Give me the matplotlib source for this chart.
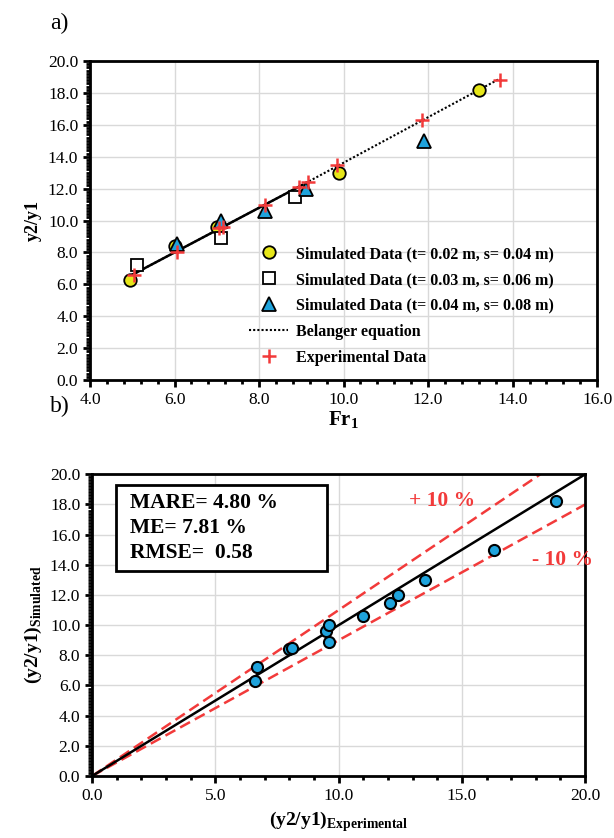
import matplotlib
matplotlib.use("Agg")
import matplotlib.pyplot as plt
from matplotlib.patches import Rectangle
from matplotlib.ticker import MultipleLocator, FormatStrFormatter

plt.rcParams["font.family"] = "Liberation Serif"
plt.rcParams["mathtext.fontset"] = "custom"
plt.rcParams["mathtext.rm"] = "Liberation Serif"
plt.rcParams["mathtext.bf"] = "Liberation Serif:bold"

# ── Panel a: y2/y1 against Fr1 ─────────────────────────────────────────────
fr_t02 = [4.95, 6.0, 7.0, 9.9, 13.2]
y_t02 = [6.3, 8.4, 9.6, 13.0, 18.2]

fr_t03 = [5.1, 7.1, 8.85]
y_t03 = [7.2, 8.9, 11.5]

fr_t04 = [6.05, 7.1, 8.15, 9.1, 11.9]
y_t04 = [8.5, 10.0, 10.6, 12.0, 15.0]

fr_exp = [5.05, 6.05, 7.05, 7.15, 8.15, 8.95, 9.15, 9.85, 11.85, 13.7]
y_exp = [6.6, 8.0, 9.5, 9.6, 11.0, 12.1, 12.4, 13.5, 16.3, 18.8]

fr_belanger = [5.0, 9.0, 13.7]
y_belanger = [6.6, 12.2, 18.9]

fr_fit = [5.0, 9.0]
y_fit = [6.6, 12.2]

# ── Panel b: simulated vs experimental ─────────────────────────────────────
exp_vals = [6.6, 6.7, 8.0, 8.1, 9.5, 9.6, 9.6, 11.0, 12.1, 12.4, 13.5, 16.3, 18.8]
sim_vals = [6.3, 7.2, 8.4, 8.5, 9.6, 10.0, 8.9, 10.6, 11.5, 12.0, 13.0, 15.0, 18.2]

ref_x = [0.0, 20.0]
ref_y = [0.0, 20.0]
upper_x = [0.0, 20.0 / 1.1]
upper_y = [0.0, 20.0]
lower_x = [0.0, 20.0]
lower_y = [0.0, 18.0]

stats = ["MARE= 4.80 %", "ME= 7.81 %", "RMSE=  0.58"]

RED = "#f23a3a"
YELLOW = "#e6e619"
BLUE = "#1fa3dc"
GRID = "#d9d9d9"


def style_axes(ax, xmaj, xmin, ymaj, ymin):
    ax.xaxis.set_major_locator(MultipleLocator(xmaj))
    ax.xaxis.set_minor_locator(MultipleLocator(xmin))
    ax.yaxis.set_major_locator(MultipleLocator(ymaj))
    ax.yaxis.set_minor_locator(MultipleLocator(ymin))
    ax.xaxis.set_major_formatter(FormatStrFormatter("%.1f"))
    ax.yaxis.set_major_formatter(FormatStrFormatter("%.1f"))
    ax.grid(True, which="major", color=GRID, lw=1.0)
    ax.set_axisbelow(True)
    for sp in ax.spines.values():
        sp.set_linewidth(2.0)
    ax.tick_params(which="major", direction="out", length=5, width=2,
                   labelsize=12.5)
    ax.tick_params(which="minor", direction="out", length=3, width=2)


fig = plt.figure(figsize=(6.14, 8.38), dpi=100)

# panel a
ax1 = fig.add_axes([0.1466, 0.5465, 0.826, 0.3807])
ax1.set_xlim(4, 16)
ax1.set_ylim(0, 20)
style_axes(ax1, 2, 0.4, 2, 0.2)

ax1.plot(fr_fit, y_fit, color="black", lw=1.8, zorder=2)
ax1.plot(fr_belanger, y_belanger, color="black", lw=1.5, ls=(0, (1, 1)),
         zorder=2, label="Belanger equation")
ax1.plot(fr_t02, y_t02, ls="none", marker="o", ms=9, mfc=YELLOW, mec="black",
         mew=1.3, zorder=3, label="Simulated Data (t= 0.02 m, s= 0.04 m)")
ax1.plot(fr_t03, y_t03, ls="none", marker="s", ms=9, mfc="white", mec="black",
         mew=1.3, zorder=3, label="Simulated Data (t= 0.03 m, s= 0.06 m)")
ax1.plot(fr_t04, y_t04, ls="none", marker="^", ms=9.5, mfc=BLUE, mec="black",
         mew=1.3, zorder=3, label="Simulated Data (t= 0.04 m, s= 0.08 m)")
ax1.plot(fr_exp, y_exp, ls="none", marker="+", ms=10, mec=RED, mew=1.8,
         zorder=4, label="Experimental Data")

handles, labels = ax1.get_legend_handles_labels()
order = [1, 2, 3, 0, 4]
ax1.legend([handles[i] for i in order], [labels[i] for i in order],
           loc="lower left", bbox_to_anchor=(0.30, 0.025), frameon=False,
           prop={"weight": "bold", "size": 11.5}, handlelength=2.5,
           handletextpad=0.45, labelspacing=0.62, borderaxespad=0)

ax1.set_xlabel(r"$\mathbf{Fr}_{\mathbf{1}}$", fontsize=15, labelpad=1)
ax1.set_ylabel("y2/y1", fontsize=13, fontweight="bold", labelpad=4)
fig.text(0.082, 0.972, "a)", fontsize=17, va="center", ha="left")

# panel b
ax2 = fig.add_axes([0.150, 0.074, 0.803, 0.360])
ax2.set_xlim(0, 20)
ax2.set_ylim(0, 20)
style_axes(ax2, 5, 1, 2, 0.2)

ax2.plot(upper_x, upper_y, color=RED, lw=1.8, ls=(0, (4.5, 2.2)), zorder=2)
ax2.plot(lower_x, lower_y, color=RED, lw=1.8, ls=(0, (4.5, 2.2)), zorder=2)
ax2.plot(ref_x, ref_y, color="black", lw=1.8, zorder=2)
ax2.plot(exp_vals, sim_vals, ls="none", marker="o", ms=8, mfc=BLUE,
         mec="black", mew=1.5, zorder=3)

ax2.add_patch(Rectangle((0.98, 13.6), 8.55, 5.67, fill=True, fc="white",
                        ec="black", lw=2, zorder=4))
for k, line in enumerate(stats):
    ax2.text(1.55, 18.08 - 1.66 * k, line, fontsize=15.5, fontweight="bold",
             va="center", ha="left", zorder=5)

ax2.text(14.2, 18.2, "+ 10 %", color=RED, fontsize=15.5, fontweight="bold",
         ha="center", va="center")
ax2.text(19.1, 14.3, "- 10 %", color=RED, fontsize=15.5, fontweight="bold",
         ha="center", va="center")

ax2.set_xlabel(r"$\mathbf{(y2/y1)}_{\mathbf{Experimental}}$", fontsize=14,
               labelpad=4)
ax2.set_ylabel(r"$\mathbf{(y2/y1)}_{\mathbf{Simulated}}$", fontsize=14,
               labelpad=4)
fig.text(0.082, 0.515, "b)", fontsize=17, va="center", ha="left")

fig.savefig("out.png", dpi=100, facecolor="white")
